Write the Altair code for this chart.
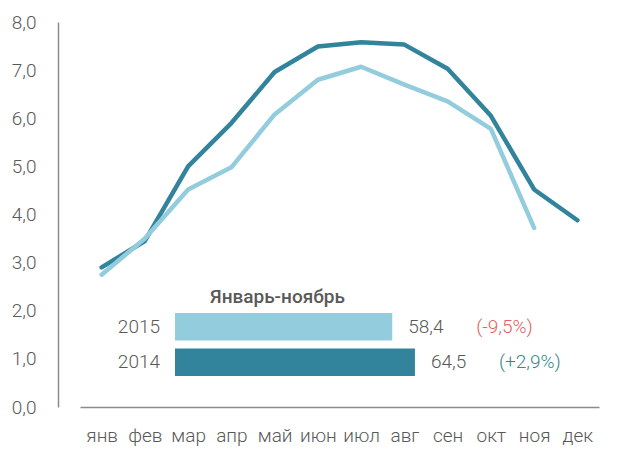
import altair as alt
import pandas as pd

months = ["янв", "фев", "мар", "апр", "май", "июн", "июл", "авг", "сен", "окт", "ноя", "дек"]
v2014 = [2.9, 3.45, 5.0, 5.9, 6.96, 7.49, 7.58, 7.53, 7.03, 6.05, 4.52, 3.88]
v2015 = [2.75, 3.5, 4.52, 4.98, 6.08, 6.8, 7.07, 6.7, 6.35, 5.78, 3.72]

bar_years = ["2015", "2014"]
bar_values = [58.4, 64.5]
bar_value_labels = ["58,4", "64,5"]
bar_changes = ["(-9,5%)", "(+2,9%)"]
inset_title = "Январь-ноябрь"

DARK = "#31849b"
LIGHT = "#93cddd"
GRAY = "#595959"
FONT = "Roboto"
FS = 19

rows = []
for m, v in zip(months, v2014):
    rows.append({"month": m, "value": v, "year": "2014"})
for m, v in zip(months, v2015):
    rows.append({"month": m, "value": v, "year": "2015"})
line_df = pd.DataFrame(rows)

bar_df = pd.DataFrame({
    "year": bar_years,
    "value": bar_values,
    "zero": [0, 0],
    "label": bar_value_labels,
    "change": bar_changes,
    "barcolor": [LIGHT, DARK],
    "chcolor": ["#e35f62", "#338a87"],
})
title_df = pd.DataFrame({"t": [inset_title], "year": ["2015"], "zero": [0]})

x_line = alt.X("month:N", sort=months, scale=alt.Scale(type="point", domain=months, range=[22, 541]),
               axis=alt.Axis(title=None, labelAngle=0, ticks=False, labelPadding=19,
                             domainColor="#8c8c8c", domainWidth=1.5, grid=False,
                             labelFontSize=FS, labelColor=GRAY, labelFont=FONT, labelFontWeight=300))
y_line = alt.Y("value:Q", scale=alt.Scale(domain=[0, 8], nice=False),
               axis=alt.Axis(title=None, values=[0, 1, 2, 3, 4, 5, 6, 7, 8], ticks=False, grid=False,
                             labelPadding=22, domainColor="#8c8c8c", domainWidth=1.5,
                             labelExpr="replace(format(datum.value, '.1f'), '.', ',')",
                             labelFontSize=FS, labelColor=GRAY, labelFont=FONT, labelFontWeight=300))

lines = alt.Chart(line_df).mark_line(strokeWidth=4.5, strokeCap="round", strokeJoin="round").encode(
    x=x_line,
    y=y_line,
    color=alt.Color("year:N", scale=alt.Scale(domain=["2014", "2015"], range=[DARK, LIGHT]), legend=None),
)

bscale = alt.Scale(domain=[0, 100], range=[117, 489])
bx = alt.X("value:Q", scale=bscale, axis=None)
bx0 = alt.X("zero:Q", scale=bscale, axis=None)
by = alt.Y("year:N", sort=bar_years,
           scale=alt.Scale(domain=bar_years, range=[291, 354], paddingInner=0.22, paddingOuter=0),
           axis=None)

base = alt.Chart(bar_df)
bars = base.mark_bar().encode(x=bx, x2="zero:Q", y=by,
                              color=alt.Color("barcolor:N", scale=None))
year_txt = base.mark_text(align="right", baseline="middle", dx=-15, fontSize=FS, font=FONT,
                          fontWeight=300, color=GRAY).encode(x=bx0, y=by, text="year:N")
val_txt = base.mark_text(align="left", baseline="middle", dx=16, fontSize=FS, font=FONT,
                         fontWeight=300, color=GRAY).encode(x=bx, y=by, text="label:N")
ch_txt = base.mark_text(align="left", baseline="middle", dx=84, fontSize=FS, font=FONT,
                        fontWeight=300).encode(x=bx, y=by, text="change:N",
                                              color=alt.Color("chcolor:N", scale=None))
title_txt = alt.Chart(title_df).mark_text(
    align="left", baseline="middle", dx=35, dy=-30, fontSize=19, font=FONT, fontWeight=500, color=GRAY
).encode(x=bx0, y=by, text="t:N")

inset = alt.layer(bars, year_txt, val_txt, ch_txt, title_txt)

chart = alt.layer(lines, inset).resolve_scale(x="independent", y="independent", color="independent").properties(
    width=553, height=385,
    autosize=alt.AutoSizeParams(type="none"),
    padding={"left": 50, "top": 14, "right": 0, "bottom": 40},
).configure_view(stroke=None)

chart.save("out.html", embed_options={"renderer": "svg", "actions": False})
